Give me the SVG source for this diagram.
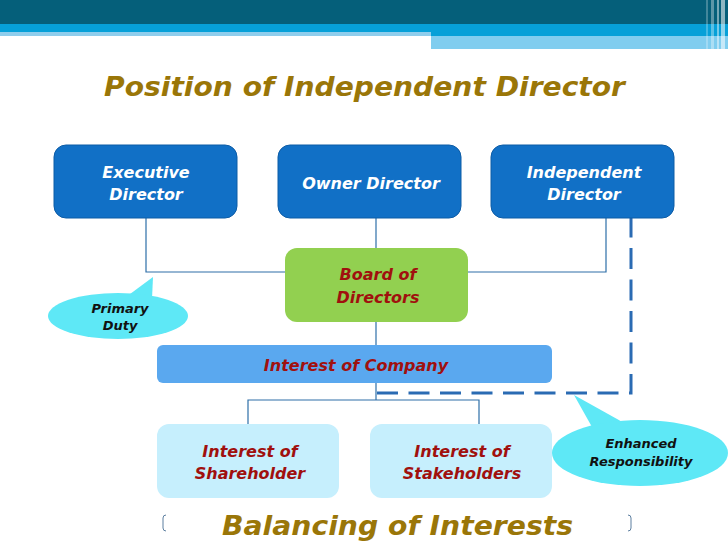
<svg xmlns="http://www.w3.org/2000/svg" width="728" height="546" viewBox="0 0 728 546">
<style>
.t{font-family:"DejaVu Sans","Liberation Sans",sans-serif;font-weight:bold;font-style:italic}
.ttl{font-size:27px;fill:#9a7608}
.w{fill:#ffffff;font-size:16px}
.r{fill:#a0100e;font-size:16px}
.k{fill:#111111;font-size:13px}
.dir{fill:#1170c6;stroke:#0d5ca6;stroke-width:1}
.ln{stroke:#2e6fa8;stroke-width:1.2;fill:none}
</style>
<rect width="728" height="546" fill="#ffffff"/>
<g id="header">
<rect x="0" y="0" width="728" height="24" fill="#055f7a"/>
<rect x="0" y="24" width="728" height="8" fill="#06a0d8"/>
<rect x="0" y="32" width="431" height="4" fill="#8fcdec"/>
<rect x="431" y="32" width="297" height="4" fill="#06a0d8"/>
<rect x="431" y="36" width="297" height="13" fill="#80cdef"/>
<rect x="706" y="0" width="2" height="49" fill="#ffffff" opacity="0.25"/>
<rect x="711" y="0" width="3" height="49" fill="#ffffff" opacity="0.35"/>
<rect x="717" y="0" width="2" height="49" fill="#ffffff" opacity="0.45"/>
<rect x="721" y="0" width="4" height="49" fill="#ffffff" opacity="0.55"/>
</g>
<text class="t ttl" x="104" y="96" textLength="521" lengthAdjust="spacingAndGlyphs">Position of Independent Director</text>
<g id="connectors">
<polyline class="ln" points="146,218 146,272 285,272"/>
<line class="ln" x1="376" y1="218" x2="376" y2="248"/>
<polyline class="ln" points="606,218 606,272 468,272"/>
<line class="ln" x1="376" y1="322" x2="376" y2="345"/>
<line class="ln" x1="376" y1="383" x2="376" y2="400"/>
<polyline class="ln" points="248,424 248,400 479,400 479,424"/>
<polyline points="377,393 631,393 631,218" fill="none" stroke="#2a6bb3" stroke-width="3" stroke-dasharray="21,10.5"/>
</g>
<g id="exec">
<rect class="dir" x="54" y="145" width="183" height="73" rx="12"/>
<text class="t w" x="146" y="178" text-anchor="middle">Executive</text>
<text class="t w" x="146" y="200" text-anchor="middle">Director</text>
</g>
<g id="owner">
<rect class="dir" x="278" y="145" width="183" height="73" rx="12"/>
<text class="t w" x="371" y="189" text-anchor="middle">Owner Director</text>
</g>
<g id="independent">
<rect class="dir" x="491" y="145" width="183" height="73" rx="12"/>
<text class="t w" x="584" y="178" text-anchor="middle">Independent</text>
<text class="t w" x="584" y="200" text-anchor="middle">Director</text>
</g>
<g id="board">
<rect x="285" y="248" width="183" height="74" rx="12" fill="#92d050"/>
<text class="t r" x="378" y="280" text-anchor="middle">Board of</text>
<text class="t r" x="378" y="303" text-anchor="middle">Directors</text>
</g>
<g id="company">
<rect x="157" y="345" width="395" height="38" rx="6" fill="#5aa8ef"/>
<text class="t r" x="356" y="371" text-anchor="middle">Interest of Company</text>
</g>
<g id="shareholder">
<rect x="157" y="424" width="182" height="74" rx="12" fill="#c6effd"/>
<text class="t r" x="250" y="457" text-anchor="middle">Interest of</text>
<text class="t r" x="250" y="479" text-anchor="middle">Shareholder</text>
</g>
<g id="stakeholders">
<rect x="370" y="424" width="182" height="74" rx="12" fill="#c6effd"/>
<text class="t r" x="462" y="457" text-anchor="middle">Interest of</text>
<text class="t r" x="462" y="479" text-anchor="middle">Stakeholders</text>
</g>
<g id="primary">
<path d="M153,277 L126,297 L152,299 Z" fill="#5ee8f6"/>
<ellipse cx="118" cy="316" rx="70" ry="23" fill="#5ee8f6"/>
<text class="t k" x="120" y="313" text-anchor="middle">Primary</text>
<text class="t k" x="120" y="330" text-anchor="middle">Duty</text>
</g>
<g id="enhanced">
<path d="M574,395 L592,427 L626,424 Z" fill="#5ee8f6"/>
<ellipse cx="640" cy="453" rx="88" ry="33" fill="#5ee8f6"/>
<text class="t k" x="641" y="448" text-anchor="middle">Enhanced</text>
<text class="t k" x="641" y="466" text-anchor="middle">Responsibility</text>
</g>
<g id="brackets" fill="none" stroke="#5d7fa0" stroke-width="1">
<path d="M166,515 Q163,515 163,518 L163,528 Q163,531 166,531"/>
<path d="M628,515 Q631,515 631,518 L631,528 Q631,531 628,531"/>
</g>
<text class="t ttl" x="222" y="535" textLength="351" lengthAdjust="spacingAndGlyphs">Balancing of Interests</text>
</svg>
